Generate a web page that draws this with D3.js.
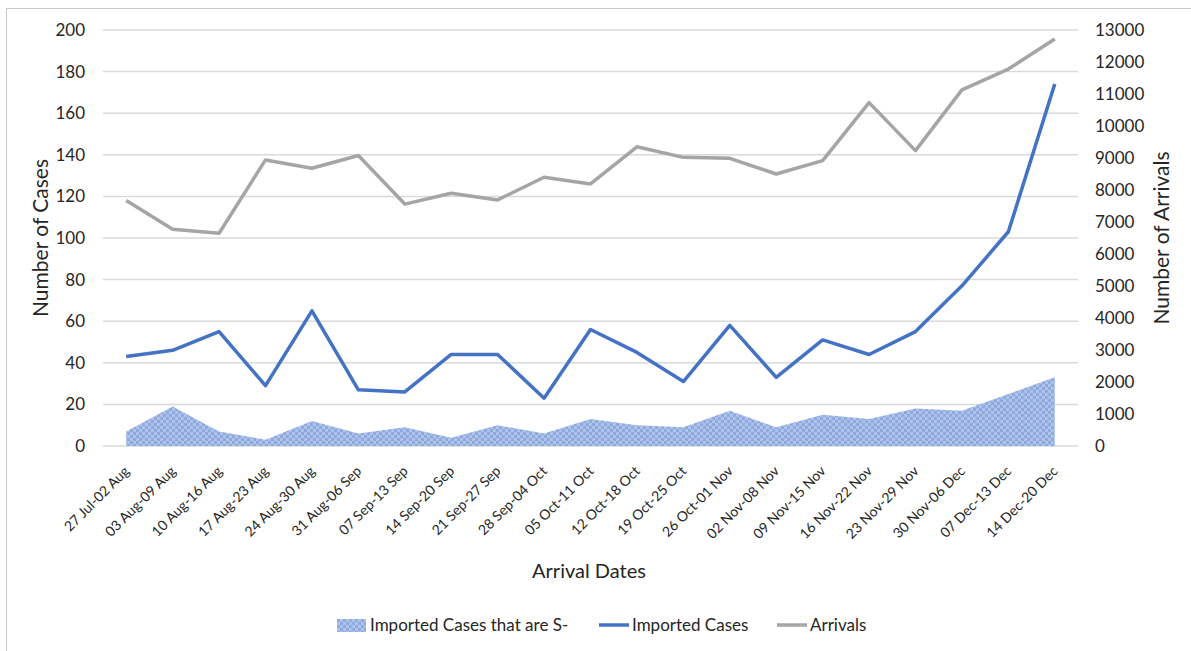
<!DOCTYPE html>
<html>
<head>
<meta charset="utf-8">
<script src="https://cdn.jsdelivr.net/npm/d3@7"></script>
<style>
  body { margin: 0; background: #fff; }
  text { font-family: Lato, "Open Sans", sans-serif; fill: #262626; }
</style>
</head>
<body>
<div id="chart"></div>
<script>
// weekly arrival windows
const weeks = ["27 Jul-02 Aug", "03 Aug-09 Aug", "10 Aug-16 Aug", "17 Aug-23 Aug", "24 Aug-30 Aug",
  "31 Aug-06 Sep", "07 Sep-13 Sep", "14 Sep-20 Sep", "21 Sep-27 Sep", "28 Sep-04 Oct",
  "05 Oct-11 Oct", "12 Oct-18 Oct", "19 Oct-25 Oct", "26 Oct-01 Nov", "02 Nov-08 Nov",
  "09 Nov-15 Nov", "16 Nov-22 Nov", "23 Nov-29 Nov", "30 Nov-06 Dec", "07 Dec-13 Dec", "14 Dec-20 Dec"];

const importedCases = [43, 46, 55, 29, 65, 27, 26, 44, 44, 23, 56, 45, 31, 58, 33, 51, 44, 55, 77, 103, 174];
const sNegCases = [7, 19, 7, 3, 12, 6, 9, 4, 10, 6, 13, 10, 9, 17, 9, 15, 13, 18, 17, 25, 33];
const arrivals = [7670, 6770, 6650, 8940, 8680, 9080, 7560, 7900, 7690, 8400, 8190, 9350, 9020, 8990, 8500,
  8920, 10730, 9230, 11130, 11780, 12720];

const leftTicks = d3.range(0, 201, 20);
const rightTicks = d3.range(0, 13001, 1000);

const W = 1191, H = 651;
const margin = { top: 30, left: 103, right: 113, bottom: 205 };
const width = W - margin.left - margin.right,
  height = H - margin.top - margin.bottom;

const blue = "#4472c4", grey = "#a5a5a5";

let svg = d3.select("#chart").append("svg")
  .attr("width", W)
  .attr("height", H);

// checkered fill for the area series
const pat = svg.append("defs").append("pattern")
  .attr("id", "checker")
  .attr("patternUnits", "userSpaceOnUse")
  .attr("width", 6).attr("height", 6);
pat.append("rect").attr("width", 6).attr("height", 6).attr("fill", "#aec2ea");
pat.append("rect").attr("width", 3).attr("height", 3).attr("fill", "#8eaade");
pat.append("rect").attr("x", 3).attr("y", 3).attr("width", 3).attr("height", 3).attr("fill", "#8eaade");

// outer chart border (only top/left fall inside the picture)
svg.append("rect")
  .attr("x", 6.5).attr("y", 8.5)
  .attr("width", W + 20).attr("height", H + 20)
  .attr("fill", "none")
  .attr("stroke", "#c8c8c8");

let g = svg.append("g")
  .attr("transform", "translate(" + margin.left + "," + margin.top + ")");

const xScale = d3.scaleBand().domain(weeks).range([0, width]);
const xPos = d => xScale(d) + xScale.bandwidth() / 2;
const yLeft = d3.scaleLinear().domain([0, 200]).range([height, 0]);
const yRight = d3.scaleLinear().domain([0, 13000]).range([height, 0]);

// gridlines
g.append("g")
  .selectAll("line")
  .data(leftTicks)
  .join("line")
  .attr("x1", 0).attr("x2", width)
  .attr("y1", d => yLeft(d)).attr("y2", d => yLeft(d))
  .attr("stroke", "#d9d9d9")
  .attr("stroke-width", 1.5);

// left axis
let leftAxis = g.append("g")
  .call(d3.axisLeft(yLeft).tickValues(leftTicks).tickSize(0).tickPadding(18));
leftAxis.select(".domain").remove();
leftAxis.selectAll("text").style("font-size", "17px").style("font-family", "Lato");

// right axis
let rightAxis = g.append("g")
  .attr("transform", "translate(" + width + ",0)")
  .call(d3.axisRight(yRight).tickValues(rightTicks).tickFormat(d3.format("d")).tickSize(0).tickPadding(17));
rightAxis.select(".domain").remove();
rightAxis.selectAll("text").style("font-size", "17px").style("font-family", "Lato");

// x axis labels, slanted
let xAxis = g.append("g")
  .attr("transform", "translate(0," + height + ")")
  .call(d3.axisBottom(xScale).tickSize(0).tickPadding(0));
xAxis.select(".domain").remove();
xAxis.selectAll("text")
  .style("text-anchor", "end")
  .style("font-size", "14px")
  .style("font-family", "Lato")
  .attr("y", 0)
  .attr("dy", 0)
  .attr("transform", "translate(4,26) rotate(-45)");

// area: imported cases that are S-
g.append("path")
  .datum(sNegCases)
  .attr("fill", "url(#checker)")
  .attr("d", d3.area()
    .x((d, i) => xPos(weeks[i]))
    .y0(yLeft(0))
    .y1(d => yLeft(d)));

// imported cases line
g.append("path")
  .datum(importedCases)
  .attr("fill", "none")
  .attr("stroke", blue)
  .attr("stroke-width", 3.5)
  .attr("stroke-linejoin", "round")
  .attr("d", d3.line()
    .x((d, i) => xPos(weeks[i]))
    .y(d => yLeft(d)));

// arrivals line
g.append("path")
  .datum(arrivals)
  .attr("fill", "none")
  .attr("stroke", grey)
  .attr("stroke-width", 3.5)
  .attr("stroke-linejoin", "round")
  .attr("d", d3.line()
    .x((d, i) => xPos(weeks[i]))
    .y(d => yRight(d)));

// axis titles
svg.append("text")
  .attr("transform", "translate(48," + (margin.top + height / 2) + ") rotate(-90)")
  .attr("text-anchor", "middle")
  .style("font-size", "21px")
  .text("Number of Cases");

svg.append("text")
  .attr("transform", "translate(1169," + (margin.top + height / 2) + ") rotate(-90)")
  .attr("text-anchor", "middle")
  .style("font-size", "21px")
  .text("Number of Arrivals");

svg.append("text")
  .attr("x", 589).attr("y", 578)
  .attr("text-anchor", "middle")
  .style("font-size", "20px")
  .text("Arrival Dates");

// legend
const legendItems = ["Imported Cases that are S-", "Imported Cases", "Arrivals"];
const legendX = [337, 599, 777];
let legend = svg.append("g").attr("transform", "translate(0,625)");
legendItems.forEach((name, i) => {
  let item = legend.append("g").attr("transform", "translate(" + legendX[i] + ",0)");
  if (i === 0) {
    item.append("rect")
      .attr("x", 0).attr("y", -6)
      .attr("width", 29).attr("height", 13)
      .attr("fill", "url(#checker)");
  } else {
    item.append("line")
      .attr("x1", 0).attr("x2", 30)
      .attr("stroke", i === 1 ? blue : grey)
      .attr("stroke-width", 3.5);
  }
  item.append("text")
    .attr("x", 33)
    .attr("y", 6)
    .style("font-size", "17px")
    .text(name);
});
</script>
</body>
</html>
